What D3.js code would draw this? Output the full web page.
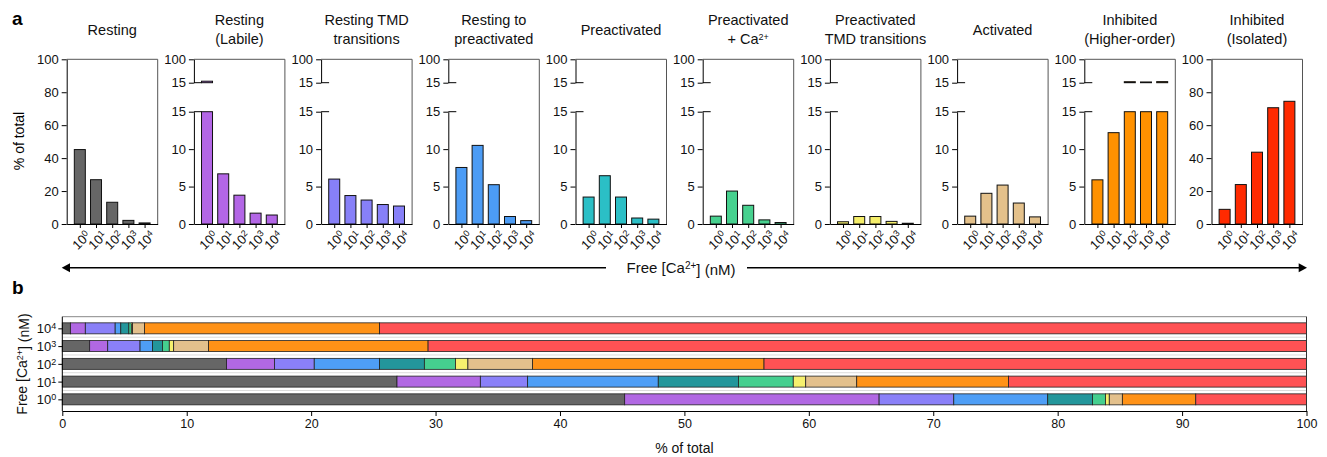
<!DOCTYPE html>
<html>
<head>
<meta charset="utf-8">
<script src="https://cdn.jsdelivr.net/npm/d3@7"></script>
<style>
  body { margin: 0; background: #fff; }
  svg { font-family: "Liberation Sans", Arial, sans-serif; }
</style>
</head>
<body>
<svg id="chart" width="1327" height="457"></svg>
<script>
// calcium levels (exponent of 10, nM)
const levels = ["0", "1", "2", "3", "4"];

// % of total per state, for 10^0 .. 10^4 nM
const resting      = [45.2, 26.9, 13.2, 2.2, 0.65];
const labile       = [20.45, 6.7, 3.85, 1.45, 1.2];
const restingTmd   = [6.0, 3.8, 3.2, 2.6, 2.4];
const restToPre    = [7.55, 10.5, 5.25, 1.0, 0.45];
const preactivated = [3.6, 6.45, 3.6, 0.8, 0.65];
const preCa        = [1.05, 4.4, 2.5, 0.55, 0.2];
const preTmd       = [0.3, 1.0, 1.0, 0.35, 0.1];
const activated    = [1.05, 4.1, 5.2, 2.8, 0.95];
const inhHigher    = [5.9, 12.2, 18.6, 17.65, 18.9];
const inhIsolated  = [8.9, 23.95, 43.6, 70.6, 74.5];

const stateKeys = ["resting", "labile", "restingTmd", "restToPre", "preactivated",
                   "preCa", "preTmd", "activated", "inhHigher", "inhIsolated"];
const seriesList = [resting, labile, restingTmd, restToPre, preactivated,
                    preCa, preTmd, activated, inhHigher, inhIsolated];
const titles = [
  ["Resting"], ["Resting", "(Labile)"], ["Resting TMD", "transitions"],
  ["Resting to", "preactivated"], ["Preactivated"], ["Preactivated", "+ Ca"],
  ["Preactivated", "TMD transitions"], ["Activated"],
  ["Inhibited", "(Higher-order)"], ["Inhibited", "(Isolated)"]
];
const brokenAxis = [false, true, true, true, true, true, true, true, true, false];

const colorsA = ["#666666", "#b366e6", "#8780f8", "#4c9cf5", "#2bbfc6",
                 "#47d18f", "#f5ee6a", "#e4c18b", "#ff9100", "#ff2a00"];
const colorsB = ["#666666", "#b168e3", "#8a80f8", "#4e9ef6", "#23969b",
                 "#45cf8f", "#f6f06e", "#e3c08c", "#ff9217", "#ff5254"];

const xTicksB = d3.range(0, 101, 10);

const svg = d3.select("#chart");

function addPow(sel, base, exp, supSize) {
  sel.append("tspan").text(base);
  sel.append("tspan").attr("dy", "-0.45em").attr("font-size", supSize).text(exp);
}

// ---------- panel a ----------
svg.append("text").attr("x", 12).attr("y", 25)
  .attr("font-size", 19).attr("font-weight", "bold").text("a");

svg.append("text")
  .attr("transform", "translate(24,141) rotate(-90)")
  .attr("text-anchor", "middle").attr("font-size", 14).text("% of total");

const W = 91, yBottom = 224, yTop = 59.3;

seriesList.forEach((vals, i) => {
  const x0 = 66.7 + i * 127.2;
  const g = svg.append("g").attr("transform", `translate(${x0},0)`);
  const x = d3.scalePoint().domain(levels).range([0, W]).padding(0.81);

  // title
  const t = titles[i];
  const tBase = t.length === 1 ? 35 : 25;
  t.forEach((line, j) => {
    const tx = g.append("text").attr("x", W / 2).attr("y", tBase + j * 19)
      .attr("text-anchor", "middle").attr("font-size", 14.5).attr("fill", "#111");
    if (line === "+ Ca") addPow(tx, "+ Ca", "2+", 9);
    else tx.text(line);
  });

  // frame
  g.append("path").attr("d", `M0,${yTop}H${W}V${yBottom}`)
    .attr("fill", "none").attr("stroke", "#555").attr("stroke-width", 1);

  let bars = [];
  if (!brokenAxis[i]) {
    const y = d3.scaleLinear().domain([0, 100]).range([yBottom, yTop]);
    g.append("g").call(d3.axisLeft(y).tickValues([0, 20, 40, 60, 80, 100]).tickSize(5).tickSizeOuter(0))
      .call(a => a.selectAll("text").attr("font-size", 13).attr("fill", "#111"));
    vals.forEach((v, k) => bars.push({ k, y0: y(0), y1: y(v) }));
  } else {
    const yL = d3.scaleLinear().domain([0, 15]).range([yBottom, 111.7]);
    const yU = d3.scaleLinear().domain([15, 100]).range([82.7, yTop]);
    g.append("g").call(d3.axisLeft(yL).tickValues([0, 5, 10, 15]).tickSize(5).tickSizeOuter(0))
      .call(a => a.selectAll("text").attr("font-size", 13).attr("fill", "#111"));
    g.append("g").call(d3.axisLeft(yU).tickValues([15, 100]).tickSize(5).tickSizeOuter(0))
      .call(a => a.selectAll("text").attr("font-size", 13).attr("fill", "#111"));
    // break marks
    [yL(15), yU(15)].forEach(yy => g.append("line").attr("x1", 0).attr("x2", 8)
      .attr("y1", yy).attr("y2", yy).attr("stroke", "#000"));
    vals.forEach((v, k) => {
      bars.push({ k, y0: yL(0), y1: yL(Math.min(v, 15)) });
      if (v > 15) bars.push({ k, y0: yU(15), y1: yU(v) });
    });
  }

  g.selectAll("rect.bar").data(bars).join("rect").attr("class", "bar")
    .attr("x", d => x(levels[d.k]) - 5.5).attr("width", 11)
    .attr("y", d => d.y1).attr("height", d => Math.max(0.6, d.y0 - d.y1))
    .attr("fill", colorsA[i]).attr("stroke", "#111").attr("stroke-width", 1);

  // x axis
  g.append("g").attr("transform", `translate(0,${yBottom})`)
    .call(d3.axisBottom(x).tickSize(4).tickSizeOuter(0).tickFormat(""));
  levels.forEach(l => {
    const tx = g.append("text")
      .attr("transform", `translate(${x(l) + 5},${yBottom + 6}) rotate(-45)`)
      .attr("text-anchor", "end").attr("font-size", 13).attr("fill", "#111")
      .attr("dy", "0.72em");
    addPow(tx, "10", l, 9);
  });
});

// arrow with label
const arrowY = 267.7;
svg.append("line").attr("x1", 66).attr("x2", 606).attr("y1", arrowY).attr("y2", arrowY)
  .attr("stroke", "#000").attr("stroke-width", 1.5);
svg.append("line").attr("x1", 747).attr("x2", 1302).attr("y1", arrowY).attr("y2", arrowY)
  .attr("stroke", "#000").attr("stroke-width", 1.5);
svg.append("path").attr("d", `M61.7,${arrowY}L70,${arrowY - 4.5}L70,${arrowY + 4.5}Z`).attr("fill", "#000");
svg.append("path").attr("d", `M1307,${arrowY}L1298.7,${arrowY - 4.5}L1298.7,${arrowY + 4.5}Z`).attr("fill", "#000");
const fl = svg.append("text").attr("x", 681).attr("y", arrowY + 5.5)
  .attr("text-anchor", "middle").attr("font-size", 15).attr("fill", "#111");
fl.append("tspan").text("Free [Ca");
fl.append("tspan").attr("dy", "-0.45em").attr("font-size", 10).text("2+");
fl.append("tspan").attr("dy", "0.45em").text("] (nM)");

// ---------- panel b ----------
svg.append("text").attr("x", 12).attr("y", 294)
  .attr("font-size", 19).attr("font-weight", "bold").text("b");

const bLeft = 62.3, bRight = 1306.5, bTop = 316.7, bBottom = 411;
const xb = d3.scaleLinear().domain([0, 100]).range([bLeft, bRight]);
const rowOrder = ["4", "3", "2", "1", "0"];
const yb = d3.scalePoint().domain(rowOrder).range([bTop, bBottom]).padding(0.656);

const rows = levels.map((l, r) => {
  const o = { level: l };
  stateKeys.forEach((k, s) => { o[k] = seriesList[s][r]; });
  return o;
});
const stacked = d3.stack().keys(stateKeys)(rows);

// row separators
rowOrder.slice(0, -1).forEach((l, j) => {
  const yy = (yb(l) + yb(rowOrder[j + 1])) / 2;
  svg.append("line").attr("x1", bLeft).attr("x2", bRight).attr("y1", yy).attr("y2", yy)
    .attr("stroke", "#dcdcdc").attr("stroke-width", 1);
});

svg.append("g").selectAll("g").data(stacked).join("g")
  .attr("fill", (d, s) => colorsB[s])
  .selectAll("rect").data(d => d).join("rect")
  .attr("x", d => xb(d[0])).attr("width", d => Math.max(0, xb(d[1]) - xb(d[0])))
  .attr("y", d => yb(d.data.level) - 5.5).attr("height", 11)
  .attr("stroke", "#222").attr("stroke-width", 0.8);

// frame
svg.append("line").attr("x1", bLeft).attr("x2", bRight).attr("y1", bTop).attr("y2", bTop)
  .attr("stroke", "#888");
svg.append("line").attr("x1", bRight).attr("x2", bRight).attr("y1", bTop).attr("y2", bBottom)
  .attr("stroke", "#333");

svg.append("g").attr("transform", `translate(0,${bBottom})`)
  .call(d3.axisBottom(xb).tickValues(xTicksB).tickSize(5).tickSizeOuter(0))
  .call(a => a.selectAll("text").attr("font-size", 12.5).attr("fill", "#111"));
svg.append("g").attr("transform", `translate(${bLeft},0)`)
  .call(d3.axisLeft(yb).tickSize(4).tickSizeOuter(0).tickFormat(""))
  .call(a => a.select(".domain").attr("d", `M0,${bTop}V${bBottom}`));
rowOrder.forEach(l => {
  const tx = svg.append("text").attr("x", bLeft - 6).attr("y", yb(l) + 5)
    .attr("text-anchor", "end").attr("font-size", 13).attr("fill", "#111");
  addPow(tx, "10", l, 9);
});

svg.append("text").attr("x", (bLeft + bRight) / 2).attr("y", 453)
  .attr("text-anchor", "middle").attr("font-size", 14).attr("fill", "#111").text("% of total");

const yt = svg.append("text").attr("transform", "translate(27,364) rotate(-90)")
  .attr("text-anchor", "middle").attr("font-size", 14).attr("fill", "#111");
yt.append("tspan").text("Free [Ca");
yt.append("tspan").attr("dy", "-0.45em").attr("font-size", 9).text("2+");
yt.append("tspan").attr("dy", "0.45em").text("] (nM)");
</script>
</body>
</html>
